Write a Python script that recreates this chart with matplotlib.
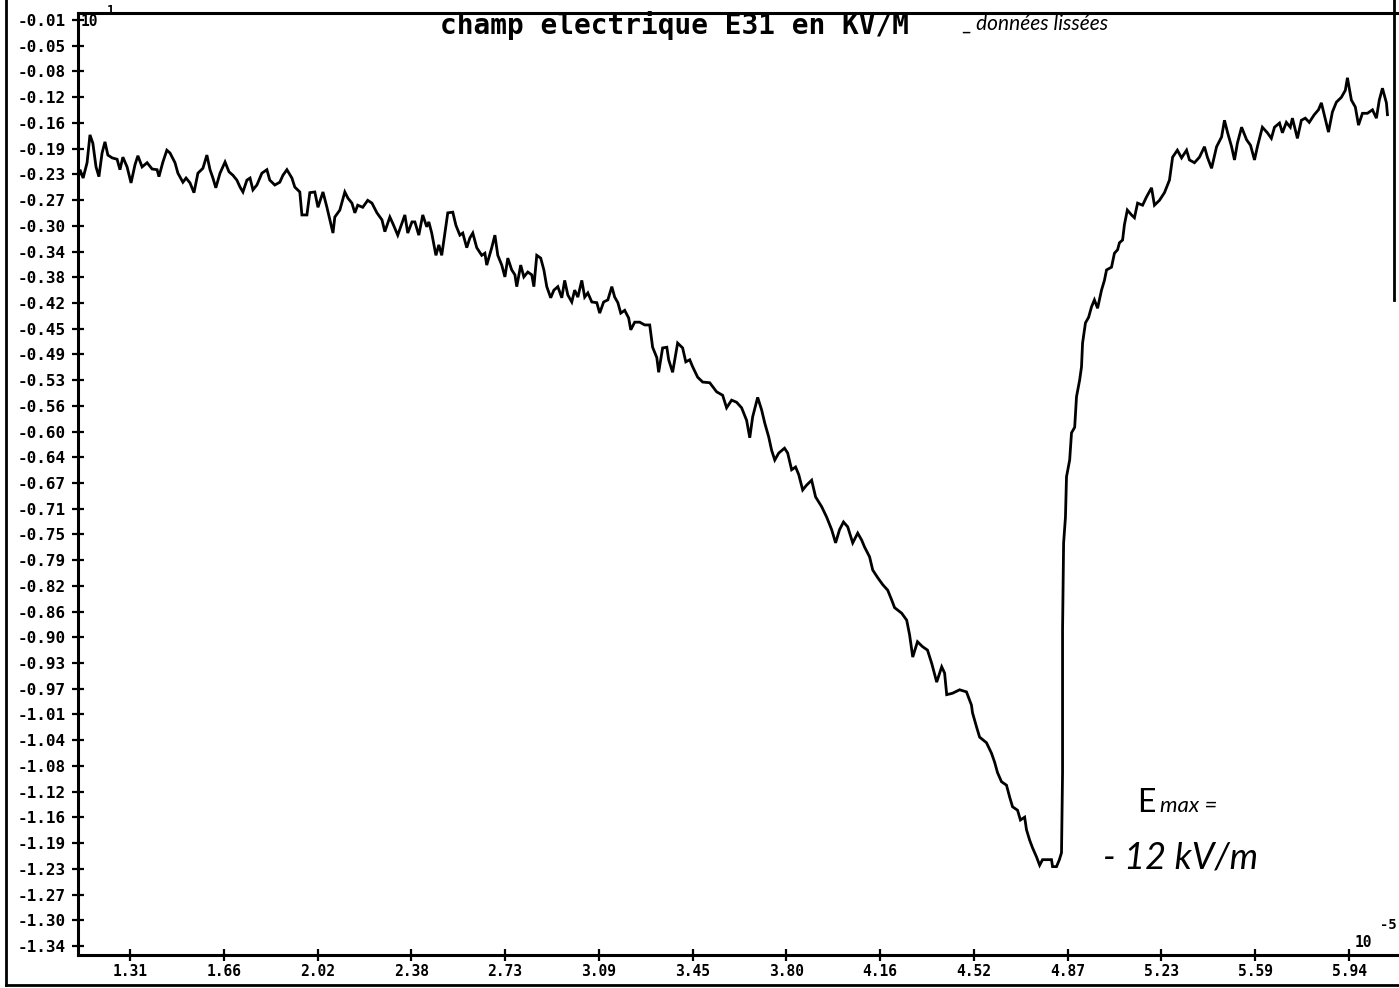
import matplotlib
matplotlib.use("Agg")
import matplotlib.pyplot as plt
from matplotlib import font_manager
from matplotlib.lines import Line2D
import numpy as np

# Time axis in units of 1e-5 s, field in units of 10 kV/m (axis factor 10^1)
time_1e5 = [
    1.113, 1.120, 1.132, 1.147, 1.158, 1.169, 1.181, 1.192, 1.204, 1.215, 1.226, 1.242,
    1.261, 1.272, 1.283, 1.299, 1.314, 1.329, 1.340, 1.356, 1.375, 1.394, 1.413, 1.420,
    1.435, 1.450, 1.462, 1.481, 1.492, 1.511, 1.523, 1.538, 1.553, 1.568, 1.587, 1.602,
    1.614, 1.625, 1.636, 1.652, 1.671, 1.686, 1.701, 1.716, 1.728, 1.739, 1.754, 1.766,
    1.777, 1.792, 1.811, 1.830, 1.841, 1.860, 1.879, 1.891, 1.906, 1.925, 1.936, 1.955,
    1.963, 1.982, 1.993, 2.012, 2.024, 2.043, 2.058, 2.069, 2.081, 2.088, 2.107, 2.126,
    2.138, 2.153, 2.164, 2.175, 2.194, 2.213, 2.229, 2.248, 2.267, 2.278, 2.297, 2.308,
    2.327, 2.343, 2.354, 2.365, 2.381, 2.392, 2.407, 2.422, 2.437, 2.445, 2.456, 2.472,
    2.483, 2.494, 2.506, 2.517, 2.536, 2.548, 2.563, 2.574, 2.589, 2.601, 2.612, 2.627,
    2.646, 2.658, 2.665, 2.684, 2.696, 2.707, 2.722, 2.734, 2.745, 2.760, 2.772, 2.779,
    2.794, 2.806, 2.821, 2.836, 2.844, 2.855, 2.870, 2.882, 2.893, 2.908, 2.920, 2.935,
    2.950, 2.961, 2.973, 2.988, 2.999, 3.011, 3.026, 3.037, 3.049, 3.064, 3.083, 3.094,
    3.109, 3.125, 3.140, 3.151, 3.163, 3.174, 3.189, 3.204, 3.212, 3.227, 3.246, 3.265,
    3.284, 3.295, 3.311, 3.318, 3.333, 3.349, 3.356, 3.371, 3.390, 3.409, 3.421, 3.436,
    3.447, 3.466, 3.485, 3.512, 3.538, 3.561, 3.576, 3.595, 3.614, 3.633, 3.652, 3.664,
    3.675, 3.694, 3.709, 3.721, 3.736, 3.747, 3.759, 3.774, 3.796, 3.808, 3.823, 3.838,
    3.850, 3.865, 3.880, 3.899, 3.914, 3.937, 3.956, 3.975, 3.990, 4.005, 4.020, 4.036,
    4.055, 4.074, 4.089, 4.100, 4.119, 4.131, 4.150, 4.169, 4.188, 4.203, 4.214, 4.241,
    4.260, 4.271, 4.283, 4.301, 4.320, 4.339, 4.355, 4.374, 4.393, 4.404, 4.412, 4.434,
    4.461, 4.487, 4.506, 4.510, 4.525, 4.537, 4.563, 4.582, 4.594, 4.605, 4.620, 4.639,
    4.651, 4.662, 4.681, 4.692, 4.708, 4.715, 4.727, 4.738, 4.753, 4.765, 4.776, 4.795,
    4.810, 4.814, 4.829, 4.840, 4.848, 4.852, 4.852, 4.852, 4.856, 4.863, 4.867, 4.879,
    4.886, 4.898, 4.905, 4.917, 4.924, 4.928, 4.939, 4.951, 4.962, 4.973, 4.985, 5.000,
    5.011, 5.019, 5.038, 5.049, 5.061, 5.068, 5.080, 5.087, 5.098, 5.114, 5.125, 5.137,
    5.156, 5.171, 5.190, 5.201, 5.220, 5.239, 5.258, 5.270, 5.288, 5.304, 5.323, 5.334,
    5.353, 5.372, 5.391, 5.402, 5.418, 5.437, 5.456, 5.467, 5.479, 5.494, 5.505, 5.516,
    5.532, 5.551, 5.566, 5.581, 5.592, 5.611, 5.630, 5.645, 5.657, 5.676, 5.687, 5.702,
    5.717, 5.725, 5.744, 5.759, 5.774, 5.789, 5.808, 5.824, 5.835, 5.846, 5.862, 5.877,
    5.892, 5.911, 5.926, 5.934, 5.949, 5.964, 5.976, 5.991, 6.010, 6.029, 6.044, 6.055,
    6.067, 6.082, 6.086,
]

field_E31 = [
    -0.237, -0.225, -0.237, -0.215, -0.175, -0.187, -0.221, -0.235, -0.201, -0.185, -0.204, -0.208,
    -0.210, -0.225, -0.207, -0.221, -0.244, -0.218, -0.205, -0.221, -0.215, -0.224, -0.225, -0.235,
    -0.214, -0.197, -0.201, -0.215, -0.230, -0.243, -0.237, -0.244, -0.258, -0.230, -0.223, -0.204,
    -0.225, -0.237, -0.251, -0.230, -0.214, -0.228, -0.233, -0.240, -0.250, -0.257, -0.240, -0.237,
    -0.254, -0.247, -0.230, -0.225, -0.240, -0.247, -0.243, -0.233, -0.225, -0.237, -0.250, -0.257,
    -0.290, -0.290, -0.258, -0.257, -0.279, -0.257, -0.279, -0.297, -0.316, -0.293, -0.283, -0.257,
    -0.266, -0.273, -0.287, -0.276, -0.279, -0.269, -0.273, -0.287, -0.297, -0.314, -0.293, -0.302,
    -0.319, -0.302, -0.290, -0.316, -0.300, -0.300, -0.319, -0.290, -0.307, -0.300, -0.316, -0.348,
    -0.333, -0.348, -0.316, -0.287, -0.286, -0.305, -0.319, -0.316, -0.337, -0.323, -0.316, -0.337,
    -0.348, -0.345, -0.362, -0.337, -0.319, -0.348, -0.362, -0.379, -0.352, -0.369, -0.376, -0.393,
    -0.362, -0.379, -0.372, -0.376, -0.393, -0.348, -0.352, -0.369, -0.393, -0.409, -0.398, -0.393,
    -0.409, -0.384, -0.405, -0.415, -0.398, -0.408, -0.384, -0.408, -0.402, -0.415, -0.416, -0.431,
    -0.415, -0.412, -0.393, -0.408, -0.416, -0.431, -0.427, -0.438, -0.455, -0.444, -0.444, -0.448,
    -0.448, -0.480, -0.495, -0.516, -0.481, -0.480, -0.498, -0.516, -0.474, -0.481, -0.501, -0.498,
    -0.508, -0.523, -0.530, -0.531, -0.544, -0.549, -0.567, -0.556, -0.559, -0.567, -0.585, -0.610,
    -0.580, -0.552, -0.570, -0.589, -0.609, -0.628, -0.642, -0.632, -0.625, -0.632, -0.656, -0.652,
    -0.663, -0.685, -0.678, -0.671, -0.695, -0.709, -0.724, -0.742, -0.761, -0.742, -0.731, -0.738,
    -0.761, -0.747, -0.757, -0.767, -0.781, -0.800, -0.811, -0.821, -0.829, -0.843, -0.854, -0.862,
    -0.872, -0.893, -0.925, -0.903, -0.910, -0.915, -0.934, -0.961, -0.939, -0.948, -0.979, -0.977,
    -0.972, -0.975, -0.994, -1.005, -1.025, -1.040, -1.048, -1.063, -1.076, -1.091, -1.104, -1.109,
    -1.126, -1.140, -1.145, -1.159, -1.155, -1.173, -1.188, -1.199, -1.212, -1.224, -1.216, -1.216,
    -1.216, -1.226, -1.226, -1.216, -1.206, -1.091, -0.958, -0.886, -0.761, -0.724, -0.666, -0.642,
    -0.603, -0.595, -0.551, -0.527, -0.508, -0.474, -0.445, -0.437, -0.422, -0.412, -0.424, -0.398,
    -0.384, -0.369, -0.365, -0.345, -0.340, -0.330, -0.326, -0.304, -0.283, -0.290, -0.294, -0.273,
    -0.276, -0.264, -0.251, -0.276, -0.269, -0.258, -0.240, -0.207, -0.197, -0.208, -0.197, -0.211,
    -0.215, -0.207, -0.192, -0.207, -0.223, -0.192, -0.178, -0.154, -0.172, -0.192, -0.211, -0.187,
    -0.164, -0.182, -0.190, -0.211, -0.192, -0.164, -0.172, -0.180, -0.164, -0.158, -0.172, -0.157,
    -0.164, -0.151, -0.180, -0.154, -0.151, -0.157, -0.146, -0.139, -0.129, -0.146, -0.171, -0.142,
    -0.128, -0.121, -0.111, -0.093, -0.125, -0.135, -0.161, -0.144, -0.144, -0.139, -0.151, -0.125,
    -0.108, -0.129, -0.146,
]

x_tick_labels = ["1.31", "1.66", "2.02", "2.38", "2.73", "3.09", "3.45",
                 "3.80", "4.16", "4.52", "4.87", "5.23", "5.59", "5.94"]
y_tick_labels = ["-0.01", "-0.05", "-0.08", "-0.12", "-0.16", "-0.19", "-0.23",
                 "-0.27", "-0.30", "-0.34", "-0.38", "-0.42", "-0.45", "-0.49",
                 "-0.53", "-0.56", "-0.60", "-0.64", "-0.67", "-0.71", "-0.75",
                 "-0.79", "-0.82", "-0.86", "-0.90", "-0.93", "-0.97", "-1.01",
                 "-1.04", "-1.08", "-1.12", "-1.16", "-1.19", "-1.23", "-1.27",
                 "-1.30", "-1.34"]

title_text = "champ electrique E31 en KV/M"
title_note = "_ données lissées"
emax_label = "E"
emax_sub = "max ="
emax_value = "- 12 kV/m"


def pick_family(candidates, fallback):
    names = {f.name for f in font_manager.fontManager.ttflist}
    for c in candidates:
        if c in names:
            return c
    return fallback


narrow = pick_family(["Liberation Sans Narrow"], "DejaVu Sans Mono")
hand = pick_family(["Lato", "Open Sans"], "DejaVu Sans")

W, H = 1399, 988
fig = plt.figure(figsize=(W / 100, H / 100), dpi=100)
fig.patch.set_facecolor("white")

left, right, bottom, top = 78, 1399, 955, 13
ax = fig.add_axes([left / W, (H - bottom) / H, (right - left) / W, (bottom - top) / H])

ax.plot(time_1e5, field_E31, color="black", lw=2.0, solid_joinstyle="miter")

x_ticks = np.linspace(float(x_tick_labels[0]), float(x_tick_labels[-1]), len(x_tick_labels))
y_ticks = np.linspace(float(y_tick_labels[0]), float(y_tick_labels[-1]), len(y_tick_labels))

x_step = x_ticks[1] - x_ticks[0]
y_step = y_ticks[0] - y_ticks[1]
ax.set_xlim(x_ticks[0] - x_step * 52 / 93.8, x_ticks[-1] + x_step * 50 / 93.8)
ax.set_ylim(y_ticks[-1] - y_step * 9 / 25.72, y_ticks[0] + y_step * 7 / 25.72)

ax.set_xticks(x_ticks)
ax.set_xticklabels(x_tick_labels)
ax.set_yticks(y_ticks)
ax.set_yticklabels(y_tick_labels)

for lab in ax.get_yticklabels():
    lab.set_fontfamily(narrow)
    lab.set_fontweight("bold")
    lab.set_fontsize(12.5 if narrow != "DejaVu Sans Mono" else 11.5)
for lab in ax.get_xticklabels():
    lab.set_fontfamily(narrow)
    lab.set_fontweight("bold")
    lab.set_fontsize(12 if narrow != "DejaVu Sans Mono" else 10.5)

ax.tick_params(axis="y", direction="inout", length=9, width=1.6, pad=4, colors="black")
ax.tick_params(axis="x", direction="inout", length=9, width=1.6, pad=2, colors="black")

for side in ("left", "bottom", "top"):
    ax.spines[side].set_linewidth(2.2)
    ax.spines[side].set_color("black")
ax.spines["right"].set_visible(False)
ax.set_facecolor("white")

# Axis scale factors
fig.text(81 / W, (H - 14) / H, "10", ha="left", va="top",
         fontsize=10.5, fontweight="bold", family=narrow)
fig.text(107 / W, (H - 4) / H, "1", ha="left", va="top",
         fontsize=9, fontweight="bold", family=narrow)
fig.text(1355 / W, (H - 950) / H, "10", ha="left", va="bottom",
         fontsize=10.5, fontweight="bold", family=narrow)
fig.text(1380 / W, (H - 932) / H, "-5", ha="left", va="bottom",
         fontsize=10, fontweight="bold", family=narrow)

# Title and handwritten notes
fig.text(440 / W, (H - 34) / H, title_text, ha="left", va="baseline",
         fontsize=20, fontweight="bold", family="DejaVu Sans Mono")
fig.text(962 / W, (H - 30) / H, title_note, ha="left", va="baseline",
         fontsize=15, family=hand, style="italic", color="black")
fig.text(1137 / W, (H - 812) / H, emax_label, ha="left", va="baseline",
         fontsize=23, family=hand, color="black")
fig.text(1160 / W, (H - 812) / H, emax_sub, ha="left", va="baseline",
         fontsize=16, family=hand, style="italic", color="black")
fig.text(1103 / W, (H - 868) / H, emax_value, ha="left", va="baseline",
         fontsize=26, family=hand, style="italic", color="black")

# Page frame around the printout
frame_kw = dict(color="black", lw=2.0, transform=fig.transFigure)
fig.add_artist(Line2D([6 / W, 6 / W], [3 / H, 1.0], **frame_kw))
fig.add_artist(Line2D([6 / W, 1.0], [3 / H, 3 / H], **frame_kw))
fig.add_artist(Line2D([1394 / W, 1394 / W], [(H - 300) / H, 1.0], **frame_kw))

fig.savefig("out.png", dpi=100, facecolor="white")
